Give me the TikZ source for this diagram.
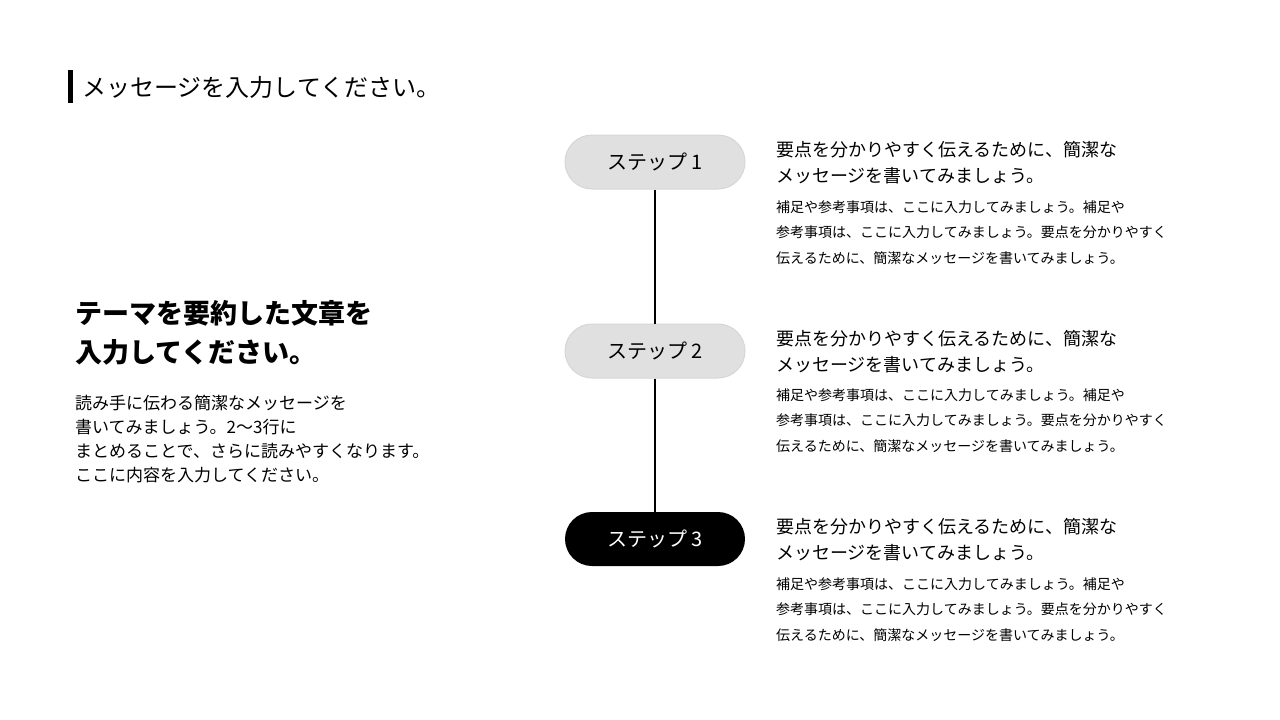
\documentclass[tikz,border=0pt]{standalone}
\usepackage{fontspec}
\setmainfont{Noto Sans CJK JP}
\begin{document}
\begin{tikzpicture}[x=1pt,y=-1pt,
  pill/.style={rounded corners=27pt,minimum width=180pt,minimum height=54pt,font=\fontsize{20}{24}\selectfont},
  lite/.style={pill,fill=black!12,draw=black!16,line width=1pt},
  dark/.style={pill,fill=black,text=white},
  txt/.style={anchor=west,inner sep=0pt},
  hd/.style={txt,font=\fontsize{18}{22}\selectfont},
  sm/.style={txt,font=\fontsize{14}{17}\selectfont}]
\useasboundingbox (0,0) rectangle (1280,720);
\fill (68,70) rectangle (73,103);
\node[txt,font=\fontsize{24}{28}\selectfont] (title) at (82,87) {メッセージを入力してください。};
\node[txt,font=\fontsize{27}{32}\selectfont\bfseries] (h1) at (75,313) {テーマを要約した文章を};
\node[txt,font=\fontsize{27}{32}\selectfont\bfseries] (h2) at (75,352) {入力してください。};
\foreach \t/\y in {読み手に伝わる簡潔なメッセージを/403,書いてみましょう。2〜3行に/427,まとめることで、さらに読みやすくなります。/451,ここに内容を入力してください。/475}
  \node[txt,font=\fontsize{17}{20}\selectfont] at (75,\y) {\t};
\node[lite] (s1) at (655,162) {ステップ 1};
\node[lite] (s2) at (655,351) {ステップ 2};
\node[dark] (s3) at (655,539) {ステップ 3};
\draw[line width=2pt] (s1) -- (s2);
\draw[line width=2pt] (s2) -- (s3);
\foreach \a/\b in {150/207,339/395,527/584}{
  \node[hd] at (776,\a) {要点を分かりやすく伝えるために、簡潔な};
  \node[hd] at (776,\a+26) {メッセージを書いてみましょう。};
  \node[sm] at (776,\b) {補足や参考事項は、ここに入力してみましょう。補足や};
  \node[sm] at (776,\b+25.5) {参考事項は、ここに入力してみましょう。要点を分かりやすく};
  \node[sm] at (776,\b+51) {伝えるために、簡潔なメッセージを書いてみましょう。};
}
\end{tikzpicture}
\end{document}
